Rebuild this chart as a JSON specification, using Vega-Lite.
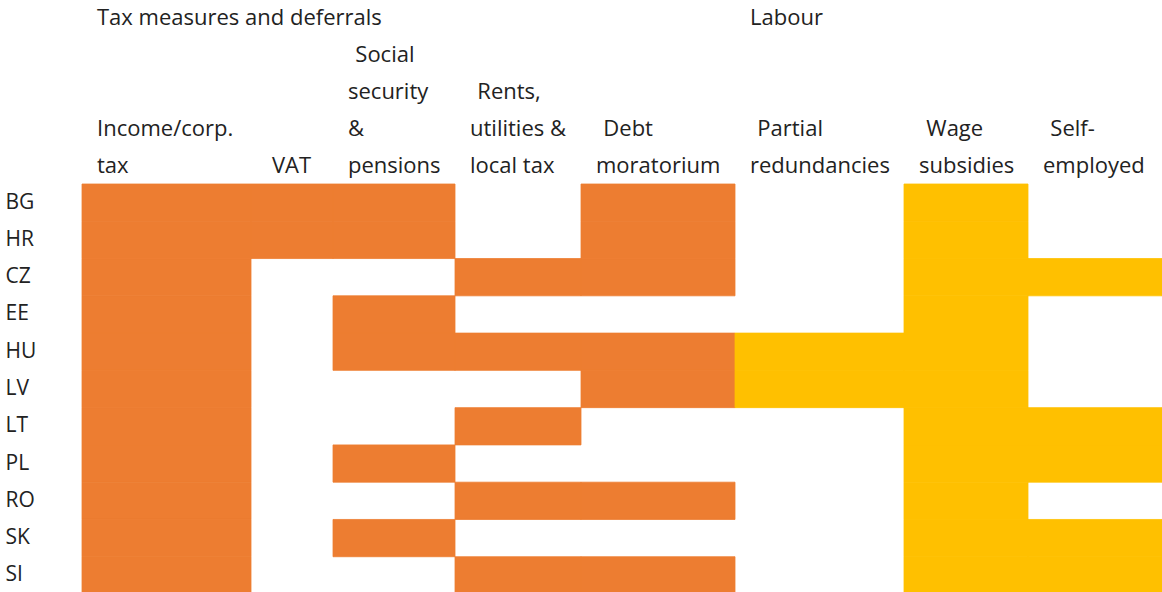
{
  "$schema": "https://vega.github.io/schema/vega-lite/v6.json",
  "padding": {"left": 5, "top": 6, "right": 0, "bottom": 0},
  "background": "white",
  "spacing": 0,
  "bounds": "flush",
  "config": {
    "view": {"stroke": null},
    "scale": {"bandPaddingInner": 0, "bandPaddingOuter": 0},
    "rect": {"strokeWidth": 0.8},
    "title": {"anchor": "start", "frame": "group", "dx": 15, "offset": 6, "lineHeight": 37, "fontSize": 22, "font": "Open Sans", "fontWeight": "normal", "color": "#222222", "baseline": "bottom"}
  },
  "data": {"values": [
    {"country": "BG", "measure": "Income/corp. tax", "group": "Tax measures and deferrals"},
    {"country": "BG", "measure": "VAT", "group": "Tax measures and deferrals"},
    {"country": "BG", "measure": "Social security & pensions", "group": "Tax measures and deferrals"},
    {"country": "BG", "measure": "Debt moratorium", "group": "Tax measures and deferrals"},
    {"country": "BG", "measure": "Wage subsidies", "group": "Labour"},
    {"country": "HR", "measure": "Income/corp. tax", "group": "Tax measures and deferrals"},
    {"country": "HR", "measure": "VAT", "group": "Tax measures and deferrals"},
    {"country": "HR", "measure": "Social security & pensions", "group": "Tax measures and deferrals"},
    {"country": "HR", "measure": "Debt moratorium", "group": "Tax measures and deferrals"},
    {"country": "HR", "measure": "Wage subsidies", "group": "Labour"},
    {"country": "CZ", "measure": "Income/corp. tax", "group": "Tax measures and deferrals"},
    {"country": "CZ", "measure": "Rents, utilities & local tax", "group": "Tax measures and deferrals"},
    {"country": "CZ", "measure": "Debt moratorium", "group": "Tax measures and deferrals"},
    {"country": "CZ", "measure": "Wage subsidies", "group": "Labour"},
    {"country": "CZ", "measure": "Self-employed", "group": "Labour"},
    {"country": "EE", "measure": "Income/corp. tax", "group": "Tax measures and deferrals"},
    {"country": "EE", "measure": "Social security & pensions", "group": "Tax measures and deferrals"},
    {"country": "EE", "measure": "Wage subsidies", "group": "Labour"},
    {"country": "HU", "measure": "Income/corp. tax", "group": "Tax measures and deferrals"},
    {"country": "HU", "measure": "Social security & pensions", "group": "Tax measures and deferrals"},
    {"country": "HU", "measure": "Rents, utilities & local tax", "group": "Tax measures and deferrals"},
    {"country": "HU", "measure": "Debt moratorium", "group": "Tax measures and deferrals"},
    {"country": "HU", "measure": "Partial redundancies", "group": "Labour"},
    {"country": "HU", "measure": "Wage subsidies", "group": "Labour"},
    {"country": "LV", "measure": "Income/corp. tax", "group": "Tax measures and deferrals"},
    {"country": "LV", "measure": "Debt moratorium", "group": "Tax measures and deferrals"},
    {"country": "LV", "measure": "Partial redundancies", "group": "Labour"},
    {"country": "LV", "measure": "Wage subsidies", "group": "Labour"},
    {"country": "LT", "measure": "Income/corp. tax", "group": "Tax measures and deferrals"},
    {"country": "LT", "measure": "Rents, utilities & local tax", "group": "Tax measures and deferrals"},
    {"country": "LT", "measure": "Wage subsidies", "group": "Labour"},
    {"country": "LT", "measure": "Self-employed", "group": "Labour"},
    {"country": "PL", "measure": "Income/corp. tax", "group": "Tax measures and deferrals"},
    {"country": "PL", "measure": "Social security & pensions", "group": "Tax measures and deferrals"},
    {"country": "PL", "measure": "Wage subsidies", "group": "Labour"},
    {"country": "PL", "measure": "Self-employed", "group": "Labour"},
    {"country": "RO", "measure": "Income/corp. tax", "group": "Tax measures and deferrals"},
    {"country": "RO", "measure": "Rents, utilities & local tax", "group": "Tax measures and deferrals"},
    {"country": "RO", "measure": "Debt moratorium", "group": "Tax measures and deferrals"},
    {"country": "RO", "measure": "Wage subsidies", "group": "Labour"},
    {"country": "SK", "measure": "Income/corp. tax", "group": "Tax measures and deferrals"},
    {"country": "SK", "measure": "Social security & pensions", "group": "Tax measures and deferrals"},
    {"country": "SK", "measure": "Wage subsidies", "group": "Labour"},
    {"country": "SK", "measure": "Self-employed", "group": "Labour"},
    {"country": "SI", "measure": "Income/corp. tax", "group": "Tax measures and deferrals"},
    {"country": "SI", "measure": "Rents, utilities & local tax", "group": "Tax measures and deferrals"},
    {"country": "SI", "measure": "Debt moratorium", "group": "Tax measures and deferrals"},
    {"country": "SI", "measure": "Wage subsidies", "group": "Labour"},
    {"country": "SI", "measure": "Self-employed", "group": "Labour"}
  ]},
  "hconcat": [
    {
      "width": 169, "height": 410,
      "title": {"text": ["Tax measures and deferrals", "\u200b", "\u200b", "Income/corp.", "tax"]},
      "transform": [{"filter": "datum.measure === 'Income/corp. tax'"}],
      "mark": {"type": "rect"},
      "encoding": {
        "x": {"field": "measure", "type": "nominal", "axis": null},
        "y": {"field": "country", "type": "nominal", "scale": {"domain": ["BG","HR","CZ","EE","HU","LV","LT","PL","RO","SK","SI"]}, "axis": {"title": null, "labelAlign": "left", "labelPadding": 77, "ticks": false, "domain": false, "labelFontSize": 21, "labelFont": "Open Sans", "labelColor": "#222222"}},
        "color": {"field": "group", "type": "nominal", "scale": {"domain": ["Tax measures and deferrals", "Labour"], "range": ["#ED7D31", "#FFC000"]}, "legend": null},
        "stroke": {"field": "group", "type": "nominal", "scale": {"domain": ["Tax measures and deferrals", "Labour"], "range": ["#ED7D31", "#FFC000"]}, "legend": null}
      }
    },
    {
      "width": 82, "height": 410,
      "title": {"text": ["\u200b", "\u200b", "\u200b", "\u200b", "VAT"], "dx": 21},
      "transform": [{"filter": "datum.measure === 'VAT'"}],
      "mark": {"type": "rect"},
      "encoding": {
        "x": {"field": "measure", "type": "nominal", "axis": null},
        "y": {"field": "country", "type": "nominal", "scale": {"domain": ["BG","HR","CZ","EE","HU","LV","LT","PL","RO","SK","SI"]}, "axis": null},
        "color": {"field": "group", "type": "nominal", "scale": {"domain": ["Tax measures and deferrals", "Labour"], "range": ["#ED7D31", "#FFC000"]}, "legend": null},
        "stroke": {"field": "group", "type": "nominal", "scale": {"domain": ["Tax measures and deferrals", "Labour"], "range": ["#ED7D31", "#FFC000"]}, "legend": null}
      }
    },
    {
      "width": 122, "height": 410,
      "title": {"text": ["\u200b", "\u200b\u2004Social", "security", "&", "pensions"]},
      "transform": [{"filter": "datum.measure === 'Social security & pensions'"}],
      "mark": {"type": "rect"},
      "encoding": {
        "x": {"field": "measure", "type": "nominal", "axis": null},
        "y": {"field": "country", "type": "nominal", "scale": {"domain": ["BG","HR","CZ","EE","HU","LV","LT","PL","RO","SK","SI"]}, "axis": null},
        "color": {"field": "group", "type": "nominal", "scale": {"domain": ["Tax measures and deferrals", "Labour"], "range": ["#ED7D31", "#FFC000"]}, "legend": null},
        "stroke": {"field": "group", "type": "nominal", "scale": {"domain": ["Tax measures and deferrals", "Labour"], "range": ["#ED7D31", "#FFC000"]}, "legend": null}
      }
    },
    {
      "width": 126, "height": 410,
      "title": {"text": ["\u200b", "\u200b", "\u200b\u2004Rents,", "utilities &", "local tax"]},
      "transform": [{"filter": "datum.measure === 'Rents, utilities & local tax'"}],
      "mark": {"type": "rect"},
      "encoding": {
        "x": {"field": "measure", "type": "nominal", "axis": null},
        "y": {"field": "country", "type": "nominal", "scale": {"domain": ["BG","HR","CZ","EE","HU","LV","LT","PL","RO","SK","SI"]}, "axis": null},
        "color": {"field": "group", "type": "nominal", "scale": {"domain": ["Tax measures and deferrals", "Labour"], "range": ["#ED7D31", "#FFC000"]}, "legend": null},
        "stroke": {"field": "group", "type": "nominal", "scale": {"domain": ["Tax measures and deferrals", "Labour"], "range": ["#ED7D31", "#FFC000"]}, "legend": null}
      }
    },
    {
      "width": 154, "height": 410,
      "title": {"text": ["\u200b", "\u200b", "\u200b", "\u200b\u2004Debt", "moratorium"]},
      "transform": [{"filter": "datum.measure === 'Debt moratorium'"}],
      "mark": {"type": "rect"},
      "encoding": {
        "x": {"field": "measure", "type": "nominal", "axis": null},
        "y": {"field": "country", "type": "nominal", "scale": {"domain": ["BG","HR","CZ","EE","HU","LV","LT","PL","RO","SK","SI"]}, "axis": null},
        "color": {"field": "group", "type": "nominal", "scale": {"domain": ["Tax measures and deferrals", "Labour"], "range": ["#ED7D31", "#FFC000"]}, "legend": null},
        "stroke": {"field": "group", "type": "nominal", "scale": {"domain": ["Tax measures and deferrals", "Labour"], "range": ["#ED7D31", "#FFC000"]}, "legend": null}
      }
    },
    {
      "width": 169, "height": 410,
      "title": {"text": ["Labour", "\u200b", "\u200b", "\u200b\u2004Partial", "redundancies"]},
      "transform": [{"filter": "datum.measure === 'Partial redundancies'"}],
      "mark": {"type": "rect"},
      "encoding": {
        "x": {"field": "measure", "type": "nominal", "axis": null},
        "y": {"field": "country", "type": "nominal", "scale": {"domain": ["BG","HR","CZ","EE","HU","LV","LT","PL","RO","SK","SI"]}, "axis": null},
        "color": {"field": "group", "type": "nominal", "scale": {"domain": ["Tax measures and deferrals", "Labour"], "range": ["#ED7D31", "#FFC000"]}, "legend": null},
        "stroke": {"field": "group", "type": "nominal", "scale": {"domain": ["Tax measures and deferrals", "Labour"], "range": ["#ED7D31", "#FFC000"]}, "legend": null}
      }
    },
    {
      "width": 124, "height": 410,
      "title": {"text": ["\u200b", "\u200b", "\u200b", "\u200b\u2004Wage", "subsidies"]},
      "transform": [{"filter": "datum.measure === 'Wage subsidies'"}],
      "mark": {"type": "rect"},
      "encoding": {
        "x": {"field": "measure", "type": "nominal", "axis": null},
        "y": {"field": "country", "type": "nominal", "scale": {"domain": ["BG","HR","CZ","EE","HU","LV","LT","PL","RO","SK","SI"]}, "axis": null},
        "color": {"field": "group", "type": "nominal", "scale": {"domain": ["Tax measures and deferrals", "Labour"], "range": ["#ED7D31", "#FFC000"]}, "legend": null},
        "stroke": {"field": "group", "type": "nominal", "scale": {"domain": ["Tax measures and deferrals", "Labour"], "range": ["#ED7D31", "#FFC000"]}, "legend": null}
      }
    },
    {
      "width": 134, "height": 410,
      "title": {"text": ["\u200b", "\u200b", "\u200b", "\u200b\u2004Self-", "employed"]},
      "transform": [{"filter": "datum.measure === 'Self-employed'"}],
      "mark": {"type": "rect"},
      "encoding": {
        "x": {"field": "measure", "type": "nominal", "axis": null},
        "y": {"field": "country", "type": "nominal", "scale": {"domain": ["BG","HR","CZ","EE","HU","LV","LT","PL","RO","SK","SI"]}, "axis": null},
        "color": {"field": "group", "type": "nominal", "scale": {"domain": ["Tax measures and deferrals", "Labour"], "range": ["#ED7D31", "#FFC000"]}, "legend": null},
        "stroke": {"field": "group", "type": "nominal", "scale": {"domain": ["Tax measures and deferrals", "Labour"], "range": ["#ED7D31", "#FFC000"]}, "legend": null}
      }
    }
  ]
}
